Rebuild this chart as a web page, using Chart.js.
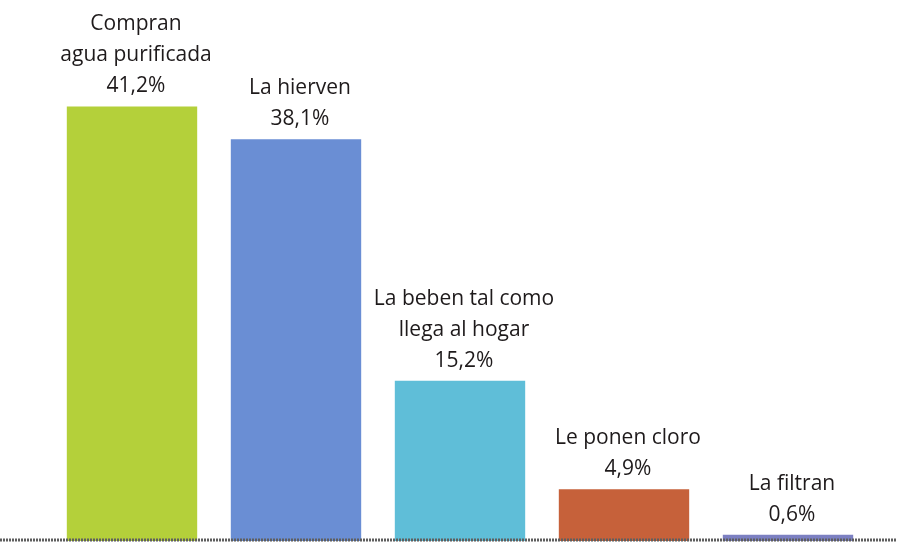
<!DOCTYPE html>
<html>
<head>
<meta charset="utf-8">
<script src="https://cdn.jsdelivr.net/npm/chart.js@4/dist/chart.umd.min.js"></script>
<style>
  html, body { margin: 0; padding: 0; background: #fff; }
  #wrap { width: 897px; height: 543px; position: relative; }
</style>
</head>
<body>
<div id="wrap"><canvas id="agua-chart"></canvas></div>
<script>
// Que hacen con el agua
var aguaLabels = [
	['Compran', 'agua purificada'],
	['La hierven'],
	['La beben tal como', 'llega al hogar'],
	['Le ponen cloro'],
	['La filtran']
];
var aguaValues = [41.2, 38.1, 15.2, 4.9, 0.6];
var aguaValueText = ['41,2%', '38,1%', '15,2%', '4,9%', '0,6%'];
var aguaColors = ['#b4d03a', '#6a8ed4', '#5fbed8', '#c6613a', '#7c80c2'];

// text above each bar
var topLabels = {
	id: 'topLabels',
	afterDatasetsDraw: function(chart) {
		var ctx = chart.ctx;
		var meta = chart.getDatasetMeta(0);
		ctx.save();
		ctx.fillStyle = '#1e1a1b';
		ctx.font = '21px "Open Sans", sans-serif';
		ctx.textAlign = 'center';
		ctx.textBaseline = 'middle';
		meta.data.forEach(function(bar, i) {
			var lines = aguaLabels[i].concat([aguaValueText[i]]);
			var y = bar.y - 20;
			for (var k = lines.length - 1; k >= 0; k--) {
				ctx.fillText(lines[k], bar.x + 4, y);
				y -= 31;
			}
		});
		ctx.restore();
	}
};

// baseline under the bars
var baseLine = {
	id: 'baseLine',
	afterDatasetsDraw: function(chart) {
		var ctx = chart.ctx;
		var y = chart.scales.y.getPixelForValue(0);
		ctx.save();
		ctx.strokeStyle = '#5e5e5e';
		ctx.lineWidth = 3;
		ctx.setLineDash([2, 1]);
		ctx.beginPath();
		ctx.moveTo(0, y - 1);
		ctx.lineTo(chart.width, y - 1);
		ctx.stroke();
		ctx.restore();
	}
};

window.addEventListener('load', function() {
	var ctx = document.getElementById('agua-chart').getContext('2d');
	new Chart(ctx, {
		type: 'bar',
		data: {
			labels: aguaLabels,
			datasets: [{
				data: aguaValues,
				backgroundColor: aguaColors,
				borderWidth: 0,
				barPercentage: 0.795,
				categoryPercentage: 1
			}]
		},
		options: {
			responsive: true,
			maintainAspectRatio: false,
			animation: false,
			layout: { padding: { left: 50, right: 27, top: 0, bottom: 2 } },
			plugins: {
				legend: { display: false },
				tooltip: { enabled: false }
			},
			scales: {
				x: { display: false },
				y: { display: false, min: 0, max: 51.3 }
			}
		},
		plugins: [topLabels, baseLine]
	});
});
</script>
</body>
</html>
